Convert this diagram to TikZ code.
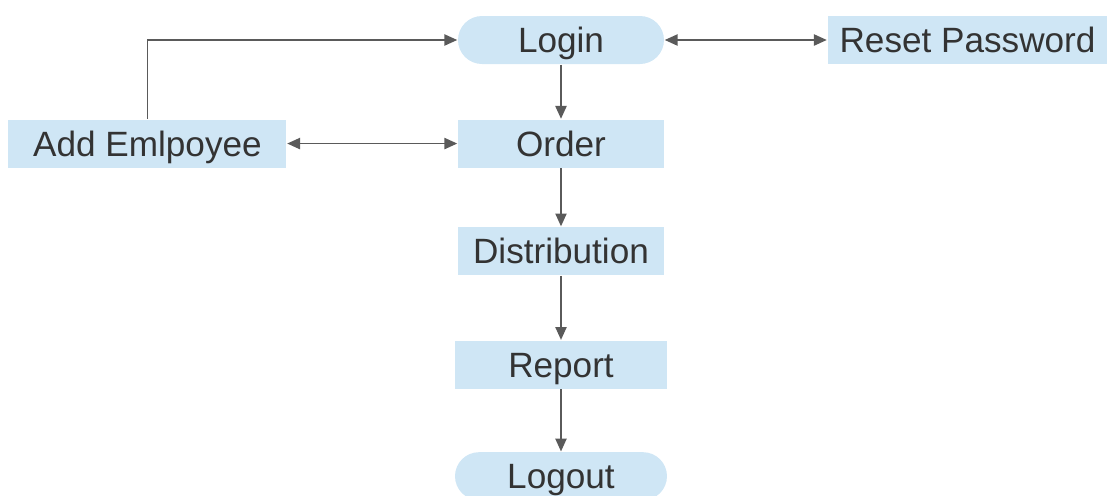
\documentclass[tikz,border=0pt]{standalone}
\usepackage{fontspec}
\setmainfont{Liberation Sans}
\usetikzlibrary{positioning}
\usetikzlibrary{arrows.meta}
\definecolor{boxblue}{HTML}{CFE6F5}
\definecolor{linegray}{HTML}{5A5A5A}
\definecolor{textgray}{HTML}{333333}

\begin{document}
\begin{tikzpicture}[->,>={Triangle[length=0.32cm,width=0.28cm]},auto,node distance=1.5cm,
  line width=1.1pt,color=linegray,
  main node/.style={fill=boxblue,text=textgray,font=\fontsize{25}{30}\selectfont,
    minimum width=5.15cm,minimum height=1.2cm,inner sep=0pt,
    text height=0.63cm,text depth=0cm},
  end node/.style={main node,rounded corners=0.6cm}]

  \useasboundingbox (-14.025,1.0) rectangle (13.65,-11.375);

  \node[end node] (login) {Login};
  \node[main node] (order) [below=1.35cm of login] {Order};
  \node[main node] (dist) [below=1.45cm of order] {Distribution};
  \node[main node, minimum width=5.3cm] (report) [below=1.6cm of dist] {Report};
  \node[end node, minimum width=5.3cm] (logout) [below=1.55cm of report] {Logout};
  \node[main node, minimum width=6.95cm] (add) [left=4.25cm of order] {Add Emlpoyee};
  \node[main node, minimum width=7cm] (reset) [right=4.05cm of login] {Reset Password};

  \path[<->]
    (login) edge (reset)
    (add) edge (order);
  \path
    (login) edge (order)
    (order) edge (dist)
    (dist) edge (report)
    (report) edge (logout);
  \draw (add) |- (login);
\end{tikzpicture}
\end{document}
